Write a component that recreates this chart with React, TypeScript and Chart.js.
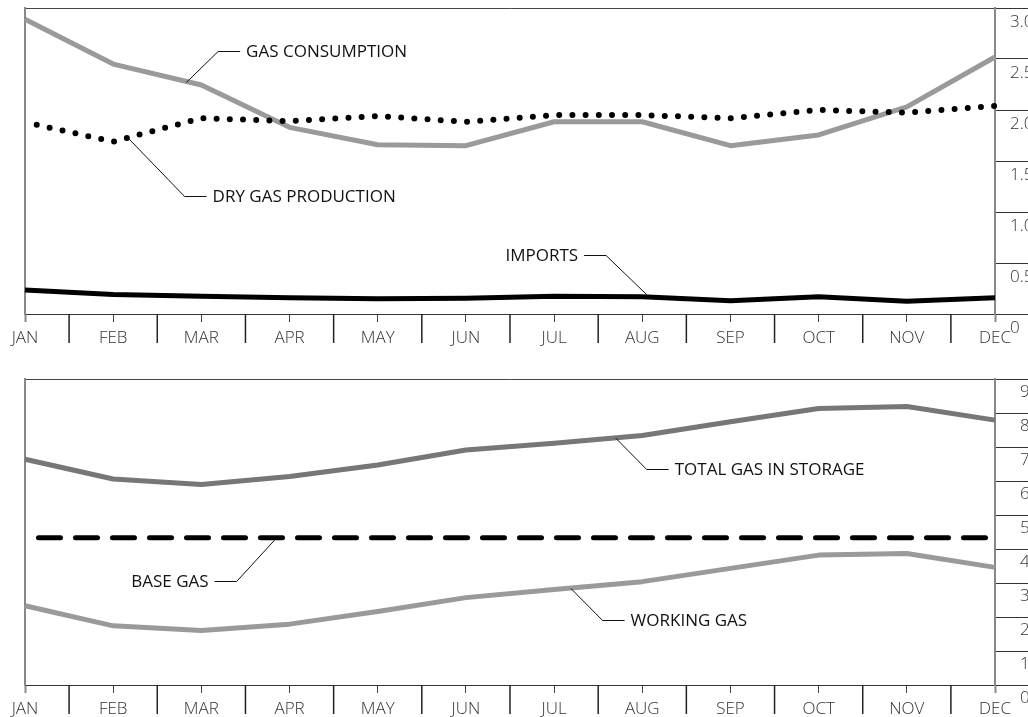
import React, { useEffect, useRef } from 'react';
import { Chart, registerables } from 'chart.js';
Chart.register(...registerables);

// ---------------- data ----------------
const MONTHS = ['JAN', 'FEB', 'MAR', 'APR', 'MAY', 'JUN', 'JUL', 'AUG', 'SEP', 'OCT', 'NOV', 'DEC'];

const gasConsumption = [2.89, 2.45, 2.245, 1.83, 1.66, 1.65, 1.885, 1.885, 1.65, 1.755, 2.03, 2.52];
const dryGasProduction = [1.88, 1.69, 1.92, 1.89, 1.94, 1.885, 1.95, 1.95, 1.92, 2.0, 1.975, 2.04];
const imports = [0.235, 0.19, 0.175, 0.16, 0.15, 0.155, 0.175, 0.17, 0.13, 0.17, 0.125, 0.16];

const totalGasInStorage = [6.64, 6.06, 5.9, 6.13, 6.47, 6.91, 7.11, 7.34, 7.74, 8.13, 8.19, 7.79];
const baseGas = [4.33, 4.33, 4.33, 4.33, 4.33, 4.33, 4.33, 4.33, 4.33, 4.33, 4.33, 4.33];
const workingGas = [2.33, 1.74, 1.6, 1.79, 2.16, 2.57, 2.81, 3.04, 3.43, 3.82, 3.87, 3.46];

const TOP_TICKS = [0, 0.5, 1.0, 1.5, 2.0, 2.5, 3.0];
const BOTTOM_TICKS = [0, 1, 2, 3, 4, 5, 6, 7, 8, 9];

type Note = { text: string; ax: number; ay: number; ex: number; ey: number; side: 'left' | 'right' };

const topNotes: Note[] = [
  { text: 'GAS CONSUMPTION', ax: 1.83, ay: 2.27, ex: 2.19, ey: 2.58, side: 'right' },
  { text: 'DRY GAS PRODUCTION', ax: 1.175, ay: 1.72, ex: 1.81, ey: 1.157, side: 'right' },
  { text: 'IMPORTS', ax: 7.05, ay: 0.19, ex: 6.59, ey: 0.578, side: 'left' },
];
const bottomNotes: Note[] = [
  { text: 'TOTAL GAS IN STORAGE', ax: 6.7, ay: 7.26, ex: 7.05, ey: 6.34, side: 'right' },
  { text: 'WORKING GAS', ax: 6.19, ay: 2.84, ex: 6.55, ey: 1.91, side: 'right' },
  { text: 'BASE GAS', ax: 2.83, ay: 4.26, ex: 2.4, ey: 3.07, side: 'left' },
];

// ---------------- styling ----------------
const FONT = '"Open Sans", "DejaVu Sans", sans-serif';
const CANVAS_W = 1100;
const AREA_LEFT = 25;
const AREA_RIGHT = 995;

const gapTicksPlugin = {
  id: 'gapTicks',
  afterDraw(chart: any) {
    const x = chart.scales.x;
    const { ctx, chartArea } = chart;
    ctx.save();
    ctx.strokeStyle = '#222';
    ctx.lineWidth = 1.5;
    for (let i = 0; i < MONTHS.length - 1; i++) {
      const px = (x.getPixelForTick(i) + x.getPixelForTick(i + 1)) / 2;
      ctx.beginPath();
      ctx.moveTo(px, chartArea.bottom);
      ctx.lineTo(px, chartArea.bottom + 29);
      ctx.stroke();
    }
    ctx.restore();
  },
};

function notesPlugin(notes: Note[]) {
  return {
    id: 'notes',
    afterDraw(chart: any) {
      const x = chart.scales.x;
      const y = chart.scales.y;
      const ctx = chart.ctx;
      ctx.save();
      ctx.strokeStyle = '#111';
      ctx.lineWidth = 1;
      ctx.fillStyle = '#111';
      ctx.font = `17px ${FONT}`;
      ctx.textBaseline = 'middle';
      for (const n of notes) {
        const ax = x.getPixelForValue(n.ax);
        const ay = y.getPixelForValue(n.ay);
        const ex = x.getPixelForValue(n.ex);
        const ey = Math.round(y.getPixelForValue(n.ey)) + 0.5;
        const dir = n.side === 'right' ? 1 : -1;
        const hx = ex + dir * 22;
        ctx.beginPath();
        ctx.moveTo(ax, ay);
        ctx.lineTo(ex, ey);
        ctx.lineTo(hx, ey);
        ctx.stroke();
        ctx.textAlign = dir > 0 ? 'left' : 'right';
        ctx.fillText(n.text, hx + dir * 6, ey + 1);
      }
      ctx.restore();
    },
  };
}

type Panel = {
  canvasTop: number;
  canvasH: number;
  areaTop: number;
  areaBottom: number;
  min: number;
  max: number;
  ticks: number[];
  fmt: (v: number) => string;
  labelPad: number;
  labelOffset: number;
  datasets: any[];
  notes: Note[];
};

function buildConfig(p: Panel): any {
  const tickFont = { family: FONT, size: 17, weight: '300' };
  return {
    type: 'line',
    data: {
      labels: MONTHS,
      datasets: p.datasets.map((d) => ({ ...d, xAxisID: 'x', yAxisID: 'y' })),
    },
    options: {
      responsive: false,
      animation: false,
      devicePixelRatio: 1,
      layout: { padding: { left: AREA_LEFT, top: p.areaTop - p.canvasTop, right: 0, bottom: 0 } },
      plugins: { legend: { display: false }, tooltip: { enabled: false } },
      elements: {
        point: { radius: 0, hoverRadius: 0 },
        line: { tension: 0, borderJoinStyle: 'round', fill: false },
      },
      scales: {
        x: {
          type: 'category',
          position: 'bottom',
          offset: false,
          grid: {
            display: true,
            drawOnChartArea: false,
            drawTicks: true,
            tickLength: 8,
            offset: false,
            tickColor: (c: any) => (c.index === 0 || c.index === MONTHS.length - 1 ? '#888' : '#444'),
            tickWidth: (c: any) => (c.index === 0 || c.index === MONTHS.length - 1 ? 2 : 1),
          },
          border: { display: true, color: '#333', width: 1 },
          ticks: { autoSkip: false, maxRotation: 0, minRotation: 0, padding: 6, color: '#333', font: tickFont },
          afterFit: (s: any) => {
            s.height = p.canvasTop + p.canvasH - p.areaBottom;
          },
        },
        xTop: {
          type: 'category',
          position: 'top',
          offset: false,
          grid: { display: true, drawOnChartArea: false, drawTicks: false },
          border: { display: true, color: '#444', width: 1 },
          ticks: { display: false },
          afterFit: (s: any) => {
            s.height = 0;
          },
        },
        y: {
          type: 'linear',
          position: 'right',
          min: p.min,
          max: p.max,
          afterBuildTicks: (s: any) => {
            s.ticks = p.ticks.map((v) => ({ value: v }));
          },
          grid: { display: true, drawOnChartArea: false, drawTicks: true, tickLength: 40, color: '#333', lineWidth: 1 },
          border: { display: true, color: '#888', width: 2 },
          ticks: {
            padding: p.labelPad,
            labelOffset: p.labelOffset,
            color: '#333',
            font: tickFont,
            callback: (v: any) => p.fmt(Number(v)),
          },
          afterFit: (s: any) => {
            s.width = CANVAS_W - AREA_RIGHT;
          },
        },
        yLeft: {
          type: 'linear',
          position: 'left',
          min: p.min,
          max: p.max,
          grid: { display: true, drawOnChartArea: false, drawTicks: false },
          border: { display: true, color: '#888', width: 2 },
          ticks: { display: false },
          afterFit: (s: any) => {
            s.width = 0;
          },
        },
      },
    },
    plugins: [gapTicksPlugin, notesPlugin(p.notes)],
  };
}

const topPanel: Panel = {
  canvasTop: 0,
  canvasH: 360,
  areaTop: 8,
  areaBottom: 314,
  min: 0,
  max: 3,
  ticks: TOP_TICKS,
  fmt: (v) => (v === 0 ? '0' : v.toFixed(1)),
  labelPad: -25,
  labelOffset: 14,
  notes: topNotes,
  datasets: [
    {
      label: 'DRY GAS PRODUCTION',
      data: dryGasProduction,
      borderColor: '#000',
      borderWidth: 6,
      borderDash: [0, 13.2],
      borderDashOffset: 1.2,
      borderCapStyle: 'round',
    },
    { label: 'IMPORTS', data: imports, borderColor: '#000', borderWidth: 5 },
    { label: 'GAS CONSUMPTION', data: gasConsumption, borderColor: '#9a9a9a', borderWidth: 5 },
  ],
};

const bottomPanel: Panel = {
  canvasTop: 360,
  canvasH: 400,
  areaTop: 379,
  areaBottom: 685,
  min: 0,
  max: 9,
  ticks: BOTTOM_TICKS,
  fmt: (v) => String(v),
  labelPad: -15,
  labelOffset: 13,
  notes: bottomNotes,
  datasets: [
    {
      label: 'BASE GAS',
      data: baseGas,
      borderColor: '#000',
      borderWidth: 5,
      borderDash: [22, 15],
      borderDashOffset: 23.5,
      borderCapStyle: 'round',
    },
    { label: 'TOTAL GAS IN STORAGE', data: totalGasInStorage, borderColor: '#777', borderWidth: 5 },
    { label: 'WORKING GAS', data: workingGas, borderColor: '#9a9a9a', borderWidth: 5 },
  ],
};

function PanelChart({ panel }: { panel: Panel }) {
  const ref = useRef<HTMLCanvasElement | null>(null);
  useEffect(() => {
    if (!ref.current) return;
    const chart = new Chart(ref.current, buildConfig(panel));
    return () => chart.destroy();
  }, [panel]);
  return (
    <canvas
      ref={ref}
      width={CANVAS_W}
      height={panel.canvasH}
      style={{
        position: 'absolute',
        left: 0,
        top: panel.canvasTop,
        width: CANVAS_W,
        height: panel.canvasH,
        display: 'block',
      }}
    />
  );
}

export default function App() {
  return (
    <div
      style={{
        position: 'fixed',
        left: 0,
        top: 0,
        width: 1028,
        height: 717,
        overflow: 'hidden',
        background: '#fff',
      }}
    >
      <PanelChart panel={topPanel} />
      <PanelChart panel={bottomPanel} />
    </div>
  );
}
